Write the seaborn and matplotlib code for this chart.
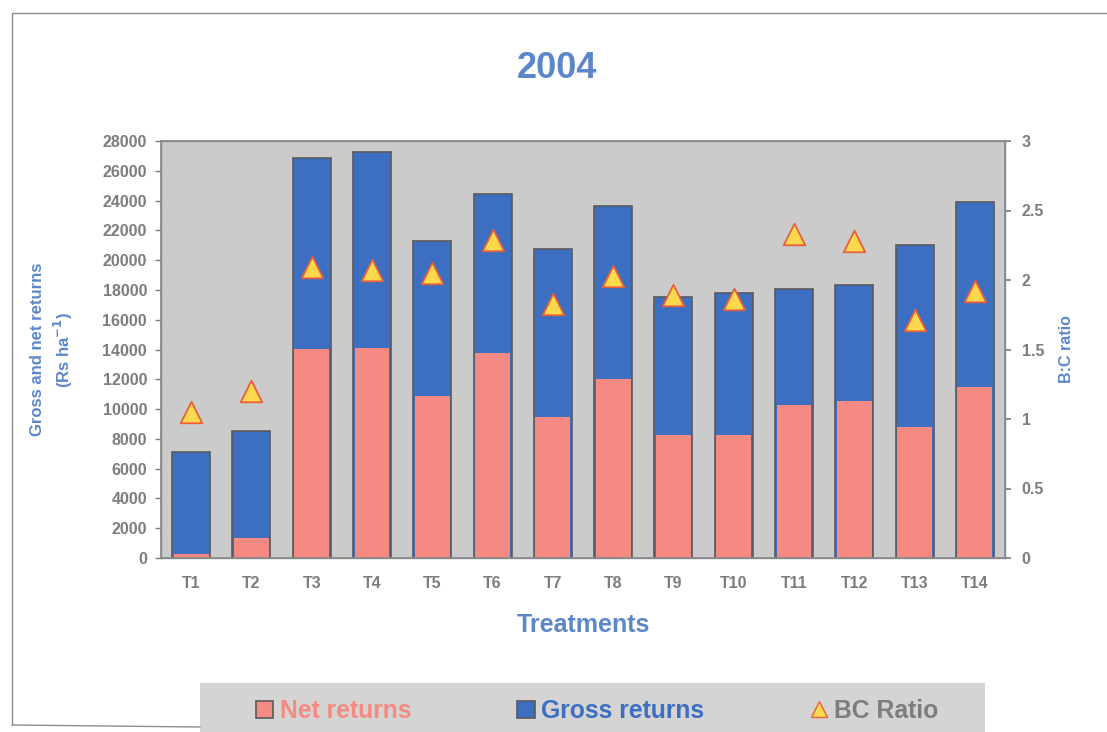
import matplotlib
matplotlib.use("Agg")
import matplotlib.pyplot as plt
from matplotlib.lines import Line2D
from matplotlib.patches import Patch, Rectangle
import seaborn as sns
import pandas as pd

treatments = ["T1", "T2", "T3", "T4", "T5", "T6", "T7",
              "T8", "T9", "T10", "T11", "T12", "T13", "T14"]
gross_returns = [7100, 8560, 26880, 27280, 21300, 24430, 20780,
                 23640, 17500, 17790, 18030, 18350, 21030, 23930]
net_returns = [300, 1340, 14040, 14100, 10860, 13740, 9500,
               12030, 8290, 8230, 10280, 10520, 8780, 11510]
bc_ratio = [1.05, 1.20, 2.09, 2.07, 2.05, 2.29, 1.83,
            2.03, 1.89, 1.86, 2.33, 2.28, 1.71, 1.92]

df = pd.DataFrame({"Treatment": treatments, "Gross": gross_returns,
                   "Net": net_returns, "BC": bc_ratio})

sns.set_theme(style="white")
plt.rcParams["font.family"] = ["Liberation Sans", "DejaVu Sans"]
plt.rcParams["font.weight"] = "bold"
plt.rcParams["mathtext.default"] = "bf"

BLUE = "#3c6fc2"
SALMON = "#f48a82"
LABEL_BLUE = "#5b87c9"
TICK_GRAY = "#7d7d7d"
EDGE = "#5a5a5a"

fig = plt.figure(figsize=(11.07, 7.32), dpi=100, facecolor="white")
ax = fig.add_axes([161 / 1107, 1 - 558 / 732, (1005 - 161) / 1107, (558 - 141) / 732])
ax.set_facecolor("#cbcbcb")

sns.barplot(data=df, x="Treatment", y="Gross", color=BLUE, width=0.63,
            saturation=1, edgecolor=EDGE, linewidth=1.2, ax=ax, label="Gross returns")
sns.barplot(data=df, x="Treatment", y="Net", color=SALMON, width=0.58,
            saturation=1, edgecolor="none", linewidth=0, ax=ax, label="Net returns")

ax.set_ylim(0, 28000)
ax.set_yticks(range(0, 28001, 2000))
ax.set_xlim(-0.5, len(treatments) - 0.5)
ax.set_xlabel("Treatments", color=LABEL_BLUE, fontsize=18, fontweight="bold", labelpad=16)
ax.set_ylabel("Gross and net returns\n(Rs ha$^{-1}$)", color=LABEL_BLUE,
              fontsize=12, fontweight="bold", labelpad=20, linespacing=1.35)
ax.tick_params(axis="both", colors=TICK_GRAY, labelsize=11.5, length=4,
               direction="out", width=1)
ax.tick_params(axis="x", pad=9)
ax.tick_params(axis="y", pad=6)
for lab in ax.get_xticklabels() + ax.get_yticklabels():
    lab.set_fontweight("bold")
    lab.set_color(TICK_GRAY)
for side in ["left", "right", "top", "bottom"]:
    ax.spines[side].set_color("#8a8a8a")
    ax.spines[side].set_linewidth(1.0)
ax.legend().remove()

ax2 = ax.twinx()
sns.scatterplot(data=df, x="Treatment", y="BC", marker="^", s=240,
                color="#ffd94d", edgecolor="#e8603c", linewidth=1.3,
                ax=ax2, zorder=5, label="BC Ratio")
ax2.set_ylim(0, 3)
ax2.set_yticks([0, 0.5, 1, 1.5, 2, 2.5, 3])
ax2.set_yticklabels(["0", "0.5", "1", "1.5", "2", "2.5", "3"])
ax2.set_ylabel("B:C ratio", color=LABEL_BLUE, fontsize=11.5, fontweight="bold", labelpad=11)
ax2.tick_params(axis="y", colors=TICK_GRAY, labelsize=11.5, length=4, pad=8, right=True)
for lab in ax2.get_yticklabels():
    lab.set_fontweight("bold")
    lab.set_color(TICK_GRAY)
for side in ["left", "right", "top", "bottom"]:
    ax2.spines[side].set_color("#8a8a8a")
ax2.legend().remove()
ax.set_xlim(-0.5, len(treatments) - 0.5)

fig.text(557 / 1107, 1 - 68 / 732, "2004", ha="center", va="center",
         color=LABEL_BLUE, fontsize=26, fontweight="bold")

# outer frame of the chart sheet
frame_kw = dict(color="#8c8c8c", linewidth=1.0, transform=fig.transFigure)
fig.add_artist(Line2D([12 / 1107, 12 / 1107], [1 - 13 / 732, 1 - 725 / 732], **frame_kw))
fig.add_artist(Line2D([12 / 1107, 1.0], [1 - 13 / 732, 1 - 13 / 732], **frame_kw))
fig.add_artist(Line2D([12 / 1107, 200 / 1107], [1 - 725 / 732, 1 - 727 / 732], **frame_kw))

# legend panel running off the bottom edge
fig.add_artist(Rectangle((200 / 1107, -0.02), (985 - 200) / 1107, (732 - 683) / 732 + 0.02,
                         transform=fig.transFigure, facecolor="#d4d4d4",
                         edgecolor="none", zorder=0))

handles = [
    Patch(facecolor=SALMON, edgecolor=EDGE, linewidth=1.2),
    Patch(facecolor=BLUE, edgecolor=EDGE, linewidth=1.2),
    Line2D([], [], marker="^", linestyle="none", markersize=11,
           markerfacecolor="#ffd94d", markeredgecolor="#e8603c"),
]
labels = ["Net returns", "Gross returns", "BC Ratio"]
leg = fig.legend(handles, labels, loc="center",
                 bbox_to_anchor=(597 / 1107, 1 - 711 / 732),
                 ncol=3, frameon=False, prop={"size": 17.8, "weight": "bold"},
                 handlelength=0.7, handleheight=0.7, handletextpad=0.25,
                 columnspacing=4.3, borderaxespad=0, borderpad=0)
for txt, col in zip(leg.get_texts(), [SALMON, BLUE, TICK_GRAY]):
    txt.set_color(col)

fig.savefig("out.png", dpi=100, facecolor=fig.get_facecolor())
